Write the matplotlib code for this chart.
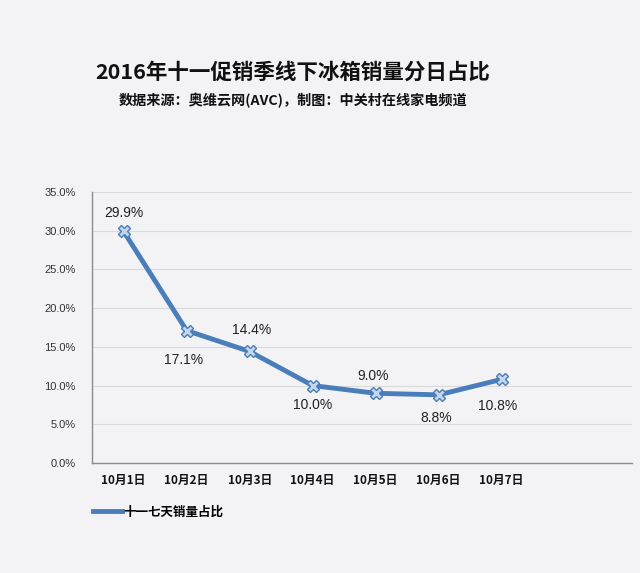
import matplotlib
matplotlib.use("Agg")
import matplotlib.pyplot as plt
from matplotlib.ticker import FuncFormatter
from matplotlib.lines import Line2D

plt.rcParams['font.family'] = ['Noto Sans CJK SC', 'DejaVu Sans']

categories = ["10月1日", "10月2日", "10月3日", "10月4日", "10月5日", "10月6日", "10月7日"]
values = [29.9, 17.1, 14.4, 10.0, 9.0, 8.8, 10.8]
# label offsets in pixels (dx, dy) relative to each point (positive dy = up)
label_offsets = [(0, 18), (-3, -29), (2, 21), (0, -19), (-2, 17), (-2, -23), (-4, -27)]
series_name = "十一七天销量占比"
title = "2016年十一促销季线下冰箱销量分日占比"
subtitle = "数据来源：奥维云网(AVC)，制图：中关村在线家电频道"

bg = "#f3f3f5"
line_color = "#4a7ebb"

fig = plt.figure(figsize=(6.4, 5.73), dpi=100, facecolor=bg)
ax = fig.add_axes([0.144, 0.192, 0.8435, 0.473], facecolor=bg)

x = list(range(len(categories)))
ax.plot(x, values, color=line_color, lw=3.5, marker='X', ms=8,
        mfc="#c4d6ec", mec="#4a7ebb", mew=1.0, zorder=3)

for xi, v, (dx, dy) in zip(x, values, label_offsets):
    ax.annotate(f"{v:.1f}%", (xi, v), xytext=(dx * 0.72, dy * 0.72), textcoords="offset points",
                ha="center", va="center", fontsize=10, color="#222222",
                family=['Liberation Sans', 'DejaVu Sans'])

ax.set_xlim(-0.5, 8.07)
ax.set_ylim(0, 35)
ax.set_yticks([0, 5, 10, 15, 20, 25, 30, 35])
ax.yaxis.set_major_formatter(FuncFormatter(lambda v, _: f"{v:.1f}%"))
ax.set_xticks(x)
ax.set_xticklabels(categories, fontsize=8.5, fontweight="bold", color="#111111")
for lbl in ax.get_yticklabels():
    lbl.set_fontsize(8)
    lbl.set_color("#333333")
    lbl.set_family(['Liberation Sans', 'DejaVu Sans'])
ax.tick_params(axis='both', length=0, pad=8)
ax.tick_params(axis='y', pad=12)
ax.grid(axis='y', color="#dadada", lw=0.8)
ax.set_axisbelow(True)
for s in ["top", "right"]:
    ax.spines[s].set_visible(False)
for s in ["left", "bottom"]:
    ax.spines[s].set_color("#8c8c8c")
    ax.spines[s].set_linewidth(1.0)

fig.text(0.458, 0.874, title, ha="center", va="center", fontsize=15.5, fontweight="bold", color="#111111")
fig.text(0.458, 0.824, subtitle, ha="center", va="center", fontsize=10.2, fontweight="bold", color="#111111")

handle = Line2D([], [], color=line_color, lw=3.5)
fig.legend([handle], [series_name], loc="center left", bbox_to_anchor=(0.128, 0.106), frameon=False,
           prop={'weight': 'bold', 'size': 9}, handlelength=2.3, handletextpad=0.15)

fig.savefig("out.png", dpi=100, facecolor=bg)
